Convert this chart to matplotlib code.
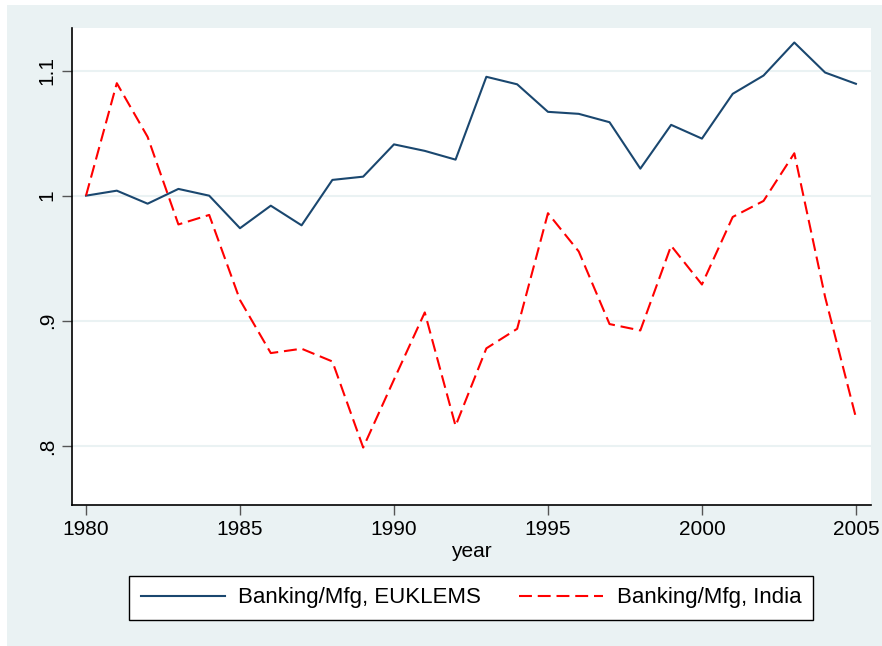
import matplotlib
matplotlib.use("Agg")
import matplotlib.pyplot as plt
from matplotlib.patches import Rectangle

plt.rcParams['font.family'] = ['Liberation Sans', 'DejaVu Sans']

years = list(range(1980, 2006))
euklems = [1.000, 1.004, 0.9936, 1.0054, 1.000, 0.974, 0.992, 0.9763, 1.0126, 1.0152,
           1.041, 1.0358, 1.0288, 1.095, 1.089, 1.067, 1.0654, 1.0587, 1.0216, 1.0566,
           1.0456, 1.0814, 1.096, 1.1224, 1.0984, 1.0894]
india = [1.000, 1.0899, 1.047, 0.977, 0.9846, 0.9166, 0.8742, 0.8777, 0.8675, 0.7987,
         0.853, 0.9067, 0.816, 0.878, 0.8936, 0.986, 0.9554, 0.8974, 0.8923, 0.960,
         0.929, 0.983, 0.9958, 1.0339, 0.919, 0.8227]
xticks = [1980, 1985, 1990, 1995, 2000, 2005]
yticks = [0.8, 0.9, 1.0, 1.1]
ytick_labels = ['.8', '.9', '1', '1.1']
label_euklems = 'Banking/Mfg, EUKLEMS'
label_india = 'Banking/Mfg, India'

W, H = 882, 646
bg = '#EAF2F3'
fig = plt.figure(figsize=(W/100, H/100), dpi=100, facecolor='white')
fig.patches.append(Rectangle((7/W, 0), 1 - 7/W, 1 - 5/H, transform=fig.transFigure,
                             facecolor=bg, edgecolor='none', zorder=-10))

ax = fig.add_axes([72/W, 1 - 505/H, (871-72)/W, (505-28)/H])
ax.set_facecolor('white')
ax.plot(years, euklems, color='#1a476f', lw=1.5, label=label_euklems, zorder=3)
ax.plot(years, india, color='#ff0000', lw=1.5, dashes=(6.2, 2.8), label=label_india, zorder=3)

ax.set_xlim(1979.545, 2005.49)
ax.set_ylim(0.7528, 1.134)
ax.set_xticks(xticks)
ax.set_yticks(yticks)
ax.set_yticklabels(ytick_labels, rotation=90, va='center')
ax.tick_params(axis='both', labelsize=15, length=7, width=1, color='#555555',
               labelcolor='black', pad=4)
ax.yaxis.grid(True, color=bg, lw=1.5)
ax.set_axisbelow(True)
for s in ['top', 'right']:
    ax.spines[s].set_visible(False)
for s in ['left', 'bottom']:
    ax.spines[s].set_color('black')
    ax.spines[s].set_linewidth(1.2)
ax.set_xlabel('year', fontsize=15, labelpad=2)

leg = fig.legend(loc='center', bbox_to_anchor=(471/W, 1 - 598/H), ncol=2,
                 fontsize=16, frameon=True, fancybox=False, framealpha=1,
                 handlelength=3.8, handletextpad=0.6, columnspacing=1.7, borderpad=0.5)
leg.get_frame().set_edgecolor('black')
leg.get_frame().set_linewidth(1.0)
leg.get_frame().set_facecolor('white')

fig.savefig('out.png', dpi=100, facecolor=fig.get_facecolor())
